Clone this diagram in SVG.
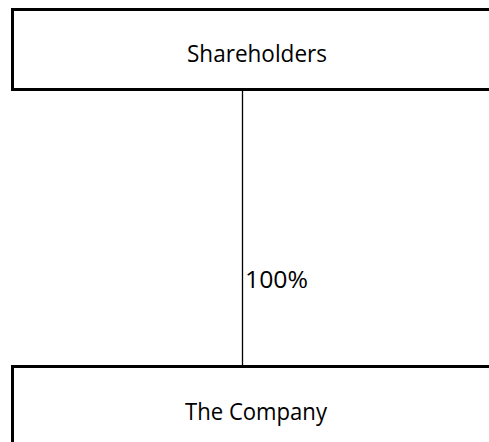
<svg xmlns="http://www.w3.org/2000/svg" width="489" height="442" viewBox="0 0 489 442">
  <style>
    .box { fill: #ffffff; stroke: #000000; stroke-width: 3; }
    .label { font-family: "Open Sans", "Liberation Sans", sans-serif; font-size: 23px; fill: #000000; }
    .link { stroke: #000000; stroke-width: 1.3; fill: none; }
  </style>
  <rect width="489" height="442" fill="#ffffff"/>
  <g id="connectors">
    <line class="link" x1="242.5" y1="90" x2="242.5" y2="366"/>
    <text class="label" x="245" y="288" textLength="63" lengthAdjust="spacingAndGlyphs">100%</text>
  </g>
  <g id="shareholders">
    <rect class="box" x="12.5" y="9.5" width="500" height="80"/>
    <text class="label" x="187" y="62" textLength="140" lengthAdjust="spacingAndGlyphs">Shareholders</text>
  </g>
  <g id="the-company">
    <rect class="box" x="12.5" y="366.5" width="500" height="100"/>
    <text class="label" x="185" y="420" textLength="142" lengthAdjust="spacingAndGlyphs">The Company</text>
  </g>
</svg>
